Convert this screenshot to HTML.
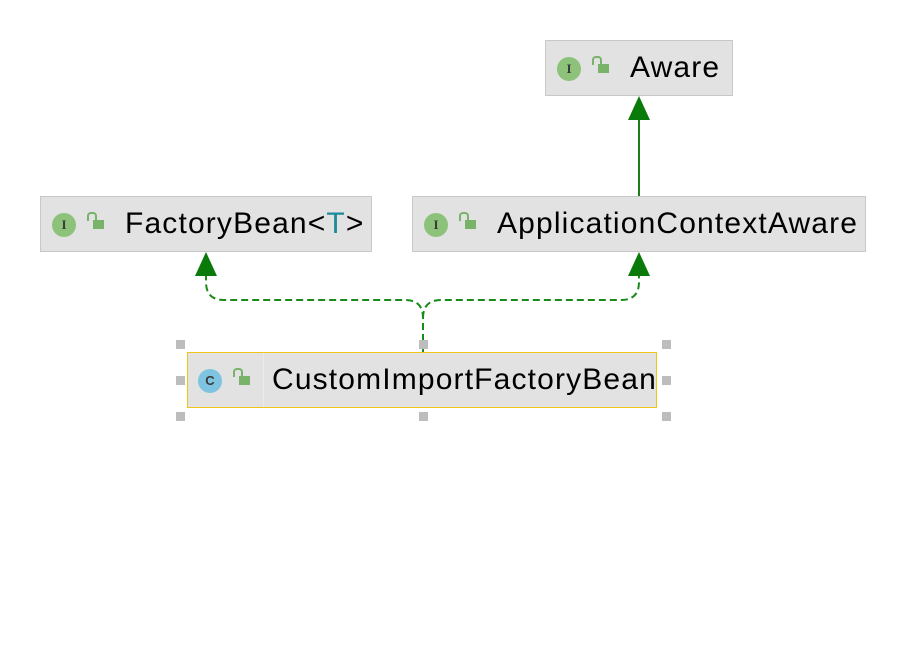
<!DOCTYPE html>
<html><head><style>
body{margin:0;width:906px;height:668px;background:#fff;position:relative;overflow:hidden;font-family:"Liberation Sans",sans-serif}
.b{position:absolute;background:#e2e2e2;border:1px solid #c8c8c8;box-sizing:border-box;height:56px}
.t{position:absolute;top:10px;font-size:30px;letter-spacing:1.15px;color:#000;white-space:nowrap}
.ic{position:absolute;top:16px;width:24px;height:24px;border-radius:50%;background:#8dc27a;color:#3a3a3a;font:bold 13px "Liberation Serif",serif;text-align:center;line-height:24px}
.lk{position:absolute;top:23px;width:11px;height:9px;background:#79b36a}
.lk:before{content:"";position:absolute;left:-6px;top:-8px;width:6px;height:7px;border:2px solid #79b36a;border-bottom:none;border-radius:4px 4px 0 0}
.h{position:absolute;width:9px;height:9px;background:#bdbdbd}
</style></head><body>
<svg width="906" height="668" style="position:absolute;left:0;top:0">
<line x1="639" y1="118" x2="639" y2="196" stroke="#1a7f1a" stroke-width="2"/>
<polygon points="639,96 628,120 650,120" fill="#0a7a0a"/>
<path d="M423,352 V318 Q423,300 405,300 H224 Q206,300 206,282 V274" fill="none" stroke="#1a8a1a" stroke-width="2" stroke-dasharray="7,4"/>
<path d="M423,318 Q423,300 441,300 H621 Q639,300 639,282 V274" fill="none" stroke="#1a8a1a" stroke-width="2" stroke-dasharray="7,4"/>
<polygon points="206,252 195,276 217,276" fill="#0a7a0a"/>
<polygon points="639,252 628,276 650,276" fill="#0a7a0a"/>
</svg>
<div class="b" style="left:545px;top:40px;width:188px"><div class="ic" style="left:11px">I</div><div class="lk" style="left:52px"></div><div class="t" style="left:84px">Aware</div></div>
<div class="b" style="left:40px;top:196px;width:332px"><div class="ic" style="left:11px">I</div><div class="lk" style="left:52px"></div><div class="t" style="left:84px">FactoryBean&lt;<span style="color:#1b8a9a">T</span>&gt;</div></div>
<div class="b" style="left:412px;top:196px;width:454px"><div class="ic" style="left:11px">I</div><div class="lk" style="left:52px"></div><div class="t" style="left:84px">ApplicationContextAware</div></div>
<div class="b" style="left:187px;top:352px;width:470px;border-color:#f0c419"><div class="ic" style="left:10px;background:#7ec3e0;font-family:'Liberation Sans',sans-serif">C</div><div class="lk" style="left:51px"></div><div style="position:absolute;left:75px;top:0;width:1px;height:54px;background:#ececec"></div><div class="t" style="left:84px">CustomImportFactoryBean</div></div>
<div class="h" style="left:176px;top:340px"></div><div class="h" style="left:419px;top:340px"></div><div class="h" style="left:662px;top:340px"></div>
<div class="h" style="left:176px;top:376px"></div><div class="h" style="left:662px;top:376px"></div>
<div class="h" style="left:176px;top:412px"></div><div class="h" style="left:419px;top:412px"></div><div class="h" style="left:662px;top:412px"></div>
</body></html>
